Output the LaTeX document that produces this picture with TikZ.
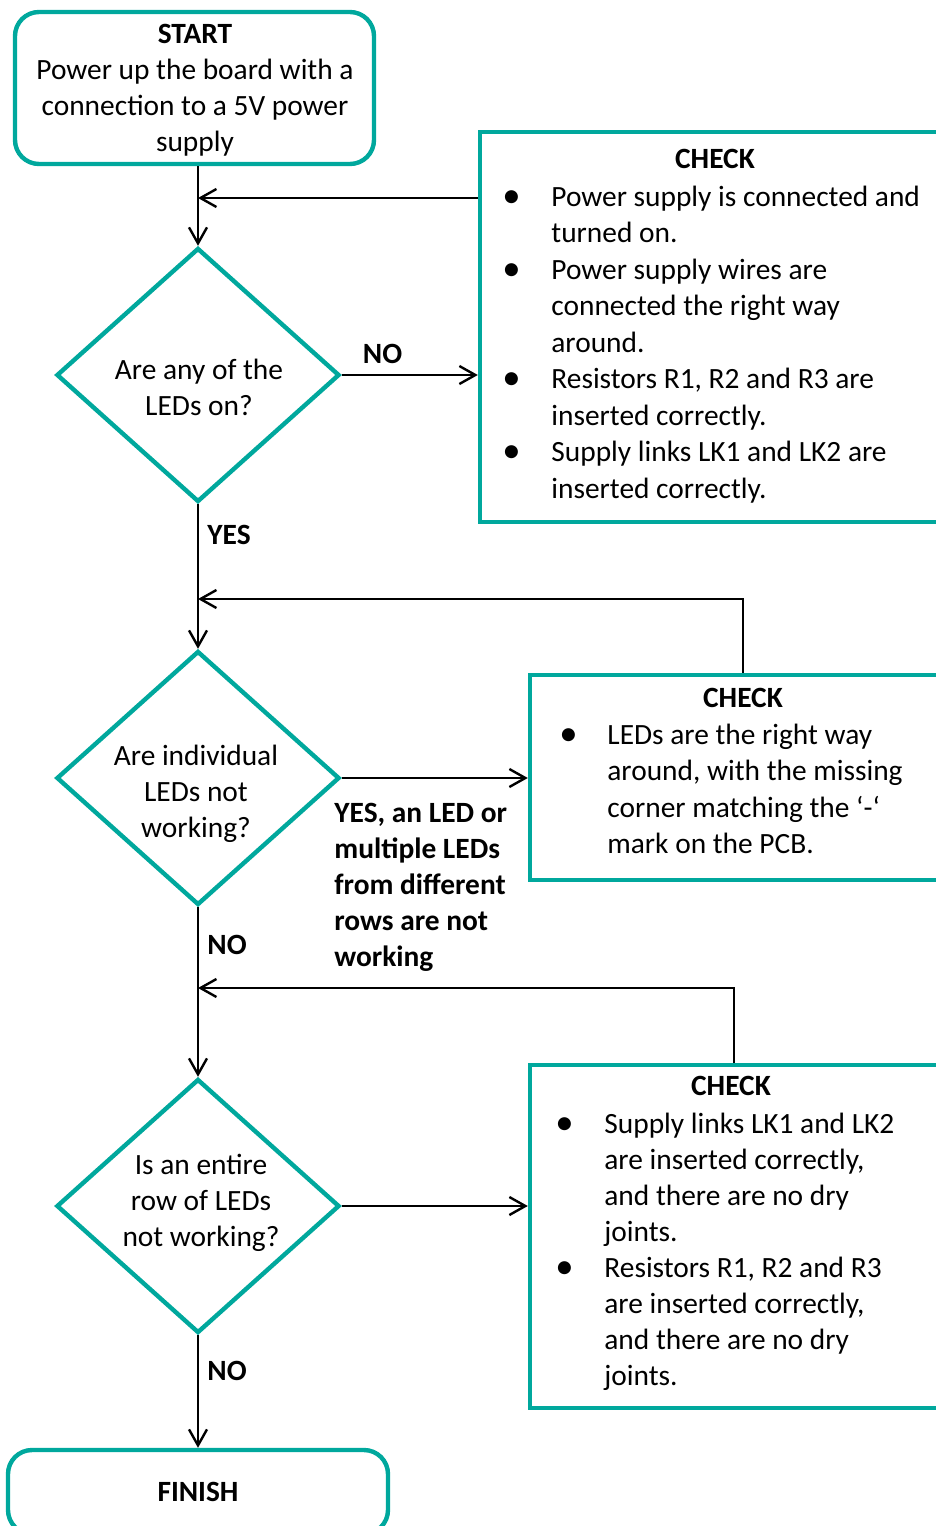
\documentclass[tikz,border=0pt]{standalone}
\usepackage{fontspec}
\usepackage{graphicx}
\setmainfont{Carlito}
\usetikzlibrary{shapes.geometric,arrows.meta}
\definecolor{flowteal}{RGB}{0,168,157}
\newcommand\bul{\raisebox{-0.7pt}{\scalebox{1.25}{\textbullet}}}
\begin{document}
\begin{tikzpicture}[x=0.5pt,y=-0.5pt,
  font=\fontsize{14.7}{18}\selectfont,
  terminal/.style={draw=flowteal,line width=2.2pt,rounded corners=12pt,inner sep=0pt,align=center},
  decision/.style={diamond,draw=flowteal,line width=2.2pt,inner sep=0pt,
    minimum width=141.5pt,minimum height=127pt},
  question/.style={align=center,inner sep=0pt},
  checkbox/.style={draw=flowteal,line width=2.2pt,inner sep=0pt},
  checklist/.style={anchor=base west,inner sep=0pt,font=\fontsize{14.7}{18.25}\selectfont},
  flow/.style={line width=1.4pt,-{Straight Barb[length=8pt,width=9pt,line width=1.2pt]}},
  answer/.style={font=\fontsize{14.7}{18}\selectfont\bfseries,inner sep=2pt,align=left}]
\clip (0,0) rectangle (936,1526);

% main column
\node[terminal,minimum width=179.5pt,minimum height=76pt] (start) at (194.5,88) {};
\node[question] (starttext) at (195,90)
  {\textbf{START}\\Power up the board with a\\connection to a 5V power\\supply};
\node[decision] (d1) at (198,375) {};
\node[question] (d1text) at (199,387) {Are any of the\\LEDs on?};
\node[decision] (d2) at (198,778) {};
\node[question] (d2text) at (196,794) {Are individual\\LEDs not\\working?};
\node[decision] (d3) at (198,1206) {};
\node[question] (d3text) at (201,1203) {Is an entire\\row of LEDs\\not working?};
\node[terminal,minimum width=190pt,minimum height=42pt] (finish) at (198,1492) {\textbf{FINISH}};

% check boxes
\node[checkbox,minimum width=235pt,minimum height=195pt] (c1) at (715,327) {};
\node[anchor=base] (c1title) at (715,168) {\textbf{CHECK}};
\node[checklist] (c1list) at (502,206) {\begin{tabular}[t]{@{}p{24.5pt}@{}l@{}}
  \bul & Power supply is connected and\\
   & turned on.\\
  \bul & Power supply wires are\\
   & connected the right way\\
   & around.\\
  \bul & Resistors R1, R2 and R3 are\\
   & inserted correctly.\\
  \bul & Supply links LK1 and LK2 are\\
   & inserted correctly.
  \end{tabular}};

\node[checkbox,minimum width=213pt,minimum height=102.5pt] (c2) at (743,777.5) {};
\node[anchor=base] (c2title) at (743,707) {\textbf{CHECK}};
\node[checklist] (c2list) at (559,744) {\begin{tabular}[t]{@{}p{24pt}@{}l@{}}
  \bul & LEDs are the right way\\
   & around, with the missing\\
   & corner matching the ‘-‘\\
   & mark on the PCB.
  \end{tabular}};

\node[checkbox,minimum width=204pt,minimum height=171.5pt] (c3) at (734,1236.5) {};
\node[anchor=base] (c3title) at (731,1095) {\textbf{CHECK}};
\node[checklist,font=\fontsize{14.7}{18}\selectfont] (c3list) at (555,1133) {\begin{tabular}[t]{@{}p{24.5pt}@{}l@{}}
  \bul & Supply links LK1 and LK2\\
   & are inserted correctly,\\
   & and there are no dry\\
   & joints.\\
  \bul & Resistors R1, R2 and R3\\
   & are inserted correctly,\\
   & and there are no dry\\
   & joints.
  \end{tabular}};

% joins on the main line
\coordinate (j1) at (198,198);
\coordinate (j2) at (198,599);
\coordinate (j3) at (198,988);

% connectors
\draw[flow] (d1.north |- start.south) -- (d1.north);
\draw[flow] (c1.west |- j1) -- (j1);
\draw[flow] (d1.east) -- (d1.east -| c1.west) node[answer,pos=.3,above,yshift=3pt] {NO};
\draw[flow] (d1.south) -- (d2.north) node[answer,pos=.21,right,xshift=2pt] {YES};
\draw[flow] (c2.north) |- (j2);
\draw[flow] (d2.east) -- (d2.east -| c2.west);
\node[answer,anchor=base west,inner sep=0pt] (yeslbl) at (334,966)
  {YES, an LED or\\multiple LEDs\\from different\\rows are not\\working};
\draw[flow] (d2.south) -- (d3.north) node[answer,pos=.22,right,xshift=2pt] {NO};
\draw[flow] (c3.north) |- (j3);
\draw[flow] (d3.east) -- (d3.east -| c3.west);
\draw[flow] (d3.south) -- (finish.north) node[answer,pos=.32,right,xshift=2pt] {NO};
\end{tikzpicture}
\end{document}
